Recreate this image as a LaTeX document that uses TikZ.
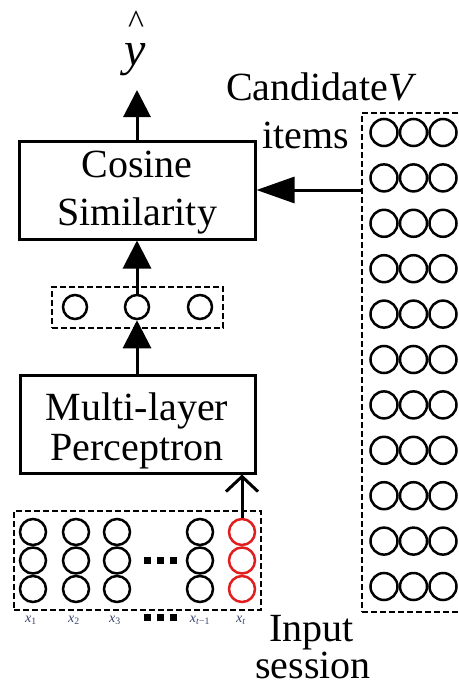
\documentclass[tikz,border=0pt]{standalone}
\usepackage{fontspec}
\setmainfont{Liberation Serif}
\usetikzlibrary{arrows.meta}
\definecolor{redc}{RGB}{225,30,30}
\definecolor{labc}{RGB}{55,65,110}
\begin{document}
\begin{tikzpicture}[x=1pt,y=-1pt,
  box/.style={draw,line width=3pt,inner sep=0pt},
  dbox/.style={draw,line width=2.5pt,dash pattern=on 6pt off 3pt,inner sep=0pt},
  circ/.style={draw,circle,line width=2.5pt,inner sep=0pt,minimum size=#1},
  txt/.style={inner sep=0pt,font=\fontsize{40}{40}\selectfont},
  lab/.style={inner sep=0pt,anchor=base,text=labc,font=\fontsize{14}{14}\selectfont},
  sq/.style={fill=black,inner sep=0pt,minimum size=7pt},
  conn/.style={line width=3pt},
  tri/.style={-{Triangle[length=28pt,width=28pt]}}
]
\useasboundingbox (0,0) rectangle (458,688);
\clip (0,0) rectangle (458,688);

% output y-hat
\node[inner sep=0pt,anchor=base] (yh) at (135,65) {\fontsize{48}{48}\selectfont\textit{y}\llap{\raisebox{32pt}{\fontsize{34}{34}\selectfont\textasciicircum}\kern1.5pt}};
\coordinate (ytip) at (137,90);

% cosine box
\node[box,minimum width=236pt,minimum height=98pt] (cos) at (137,190) {};
\node[txt,anchor=base] (cos1) at (137,177) {Cosine};
\node[txt,anchor=base] (cos2) at (137,225) {Similarity};

% middle layer
\node[dbox,minimum width=171pt,minimum height=41pt] (mid) at (137.5,307.5) {};
\node[circ=24pt] (m1) at (75,307) {};
\node[circ=24pt] (m2) at (137,307) {};
\node[circ=24pt] (m3) at (200,307) {};

% MLP
\node[box,minimum width=235pt,minimum height=98pt] (mlp) at (137.5,424) {};
\node[txt,anchor=base] (mlp1) at (137,420) {Multi-layer};
\node[txt,anchor=base] (mlp2) at (137,460) {Perceptron};

% input session
\node[dbox,minimum width=247pt,minimum height=99pt] (inp) at (137.5,560.5) {};
\foreach \cx [count=\i] in {33,76,117,200} {
  \foreach \cy [count=\j] in {532,560.5,589} {
    \node[circ=26pt] (c\i r\j) at (\cx,\cy) {};
  }
}
\foreach \cy [count=\j] in {532,560.5,589} {
  \node[circ=26pt,draw=redc] (c5r\j) at (242,\cy) {};
}
\node[sq] (d1) at (147,560) {};
\node[sq] (d2) at (160,560) {};
\node[sq] (d3) at (173,560) {};
\node[sq] (e1) at (147,617) {};
\node[sq] (e2) at (160,617) {};
\node[sq] (e3) at (173,617) {};
\node[lab] (l1) at (31,622) {\textit{x}\textsubscript{1}};
\node[lab] (l2) at (74,622) {\textit{x}\textsubscript{2}};
\node[lab] (l3) at (115,622) {\textit{x}\textsubscript{3}};
\node[lab] (l4) at (200,622) {\textit{x}\textsubscript{\textit{t}−1}};
\node[lab] (l5) at (241,622) {\textit{x}\textsubscript{\textit{t}}};
\node[txt,anchor=base west] (in1) at (269,641) {Input};
\node[txt,anchor=base west] (in2) at (255,678) {session};

% candidate items
\node[dbox,minimum width=100pt,minimum height=499pt] (cand) at (412,362.5) {};
\foreach \k in {0,...,10} {
  \pgfmathsetmacro{\ry}{132.5+45.4*\k}
  \node[circ=27pt] (v\k a) at (384,\ry) {};
  \node[circ=27pt] (v\k b) at (413.5,\ry) {};
  \node[circ=27pt] (v\k c) at (443,\ry) {};
}
\node[txt,anchor=base west] (candt) at (226,100) {Candidate\textit{V}};
\node[txt,anchor=base west] (items) at (262,148) {items};

% connectors
\draw[conn,-{Triangle[length=27pt,width=27pt]}] (cos.north) -- (ytip);
\draw[conn,-{Triangle[length=38pt,width=26pt]}] (cand.west |- cos.east) -- (cos.east);
\draw[conn,tri] (m2.north) -- (cos.south);
\draw[conn,tri] (mlp.north -| m2) -- (m2.south);
\draw[conn,-{Straight Barb[length=15pt,width=32pt]}] (c5r1.north) -- (c5r1.north |- mlp.south);
\end{tikzpicture}
\end{document}
